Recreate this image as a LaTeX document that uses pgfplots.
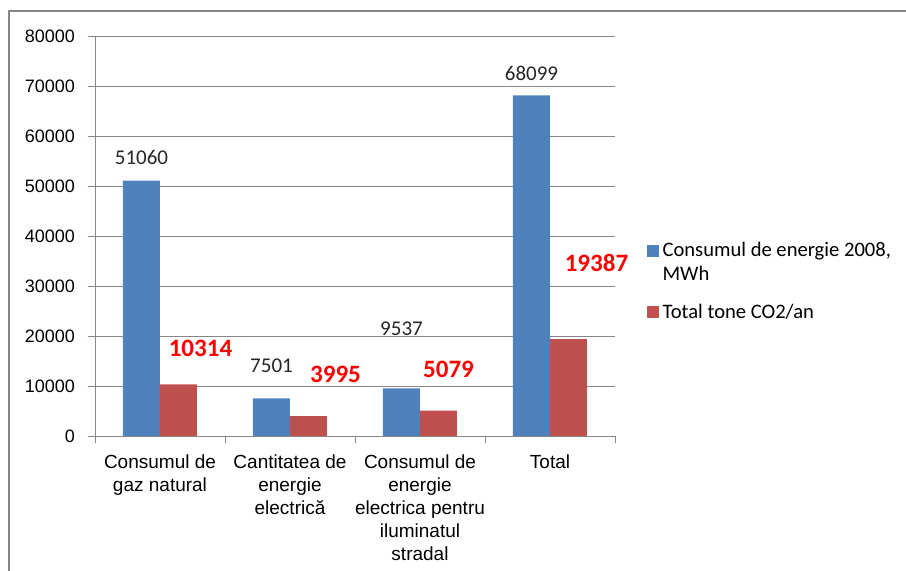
\documentclass[border=0pt]{standalone}
\usepackage{pgfplots}
\pgfplotsset{compat=1.18}
\usepackage{pgfplotstable}
\usepackage{fontspec}
\setmainfont{Carlito}
\newfontfamily\arial{Liberation Sans}

\definecolor{barblue}{HTML}{4F81BD}
\definecolor{barred}{HTML}{C0504D}
\definecolor{axgray}{HTML}{868686}
\definecolor{lblred}{HTML}{FF0000}

\pgfplotsset{
    squarelegend/.style={legend image code/.code={\fill[##1] (0pt,-3pt) rectangle (6pt,3pt);}},
    squarelegendup/.style={legend image code/.code={\fill[##1] (0pt,3pt) rectangle (6pt,9pt);}},
}

% x, value, label shift (pt)
\pgfplotstableread{
x y dx dy
0 51060 0 11.5
1 7501 0 16.5
2 9537 0 30
3 68099 0 11
}\energie
\pgfplotstableread{
x y dx dy
0 10314 11 18
1 3995 13.5 21
2 5079 5 20.5
3 19387 14 38
}\co

\begin{document}
\begin{tikzpicture}
\useasboundingbox (0,0) rectangle (453pt,285.5pt);
\draw[axgray, line width=1pt] (4.5pt,-10pt) -- (4.5pt,280pt) -- (470pt,280pt);
\begin{axis}[
    at={(47.5pt,67.5pt)}, anchor=south west,
    scale only axis, width=260pt, height=200pt,
    ybar=0pt, bar width=18.5pt,
    xmin=-0.5, xmax=3.5, ymin=0, ymax=80000,
    axis x line*=bottom, axis y line*=left,
    axis line style={axgray},
    ytick={0,10000,...,80000},
    ymajorgrids, grid style={axgray},
    tick align=outside, major tick length=3.5pt,
    tick style={axgray},
    scaled y ticks=false,
    yticklabel style={font=\arial\fontsize{9}{10}\selectfont, xshift=-3pt,
        /pgf/number format/fixed, /pgf/number format/1000 sep={},
        /pgf/number format/assume math mode=true},
    xtick={0,1,2,3},
    major x tick style={draw=none},
    xticklabels={{Consumul de\\gaz natural},{Cantitatea de\\energie\\electrică},
        {Consumul de\\energie\\electrica pentru\\iluminatul\\stradal},{Total}},
    xticklabel style={font=\arial\fontsize{9.5}{11.5}\selectfont, align=center,
        yshift=-2.5pt},
    extra x ticks={-0.5,0.5,1.5,2.5,3.5},
    extra x tick labels={},
    extra x tick style={major x tick style={draw=axgray}},
    squarelegend,
    legend style={at={(1.06,0.495)}, anchor=north west, draw=none, fill=none,
        font=\fontsize{10.3}{12}\selectfont, cells={anchor=west, align=left},
        row sep=6pt, inner sep=0pt},
    point meta=explicit symbolic,
    nodes near coords,
    visualization depends on={\thisrow{dx} \as \dx},
    visualization depends on={\thisrow{dy} \as \dy},
]
\addplot[fill=barblue, draw=none, squarelegendup,
    nodes near coords style={anchor=center, xshift=\dx pt, yshift=\dy pt,
        font=\fontsize{10.5}{12}\selectfont, text=black!85}]
    table[x=x, y=y, meta=y] {\energie};
\addlegendentry{Consumul de energie 2008,\\MWh}
\addplot[fill=barred, draw=none,
    nodes near coords style={anchor=center, xshift=\dx pt, yshift=\dy pt,
        font=\bfseries\fontsize{12.5}{15}\selectfont, text=lblred}]
    table[x=x, y=y, meta=y] {\co};
\addlegendentry{Total tone CO2/an}
\end{axis}
\end{tikzpicture}
\end{document}
